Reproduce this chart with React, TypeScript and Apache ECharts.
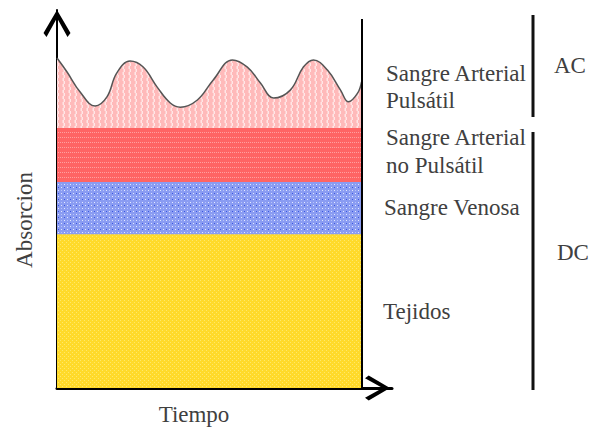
import React, { useEffect, useRef } from 'react';
import * as echarts from 'echarts';

// Time axis range (arbitrary units) and absorption range
const timeExtent = [0, 110];
const absorptionExtent = [0, 100];
const timeEnd = 100;

// Pulsatile arterial blood wave
const waveTime = [0, 3.3, 7.6, 12.5, 16.4, 19.6, 24, 28.3, 32.9, 37.2, 40.5, 46.1, 51.3, 57.6, 62.5, 66.8, 71.1, 76.6, 80.9, 84.2, 88.8, 93.1, 95.7, 98.7, 100];
const waveAbsorption = [87.3, 83.6, 78.3, 74.6, 77.0, 83.3, 86.5, 84.9, 79.6, 75.4, 74.3, 76.2, 81.5, 86.8, 84.9, 80.7, 76.7, 78.8, 84.9, 86.8, 84.1, 78.8, 75.7, 78.0, 81.0];

// Upper limit of each constant layer (from the bottom up)
const layerNames = ['Tejidos', 'Sangre Venosa', 'Sangre Arterial no Pulsátil'];
const layerTops = [40.7, 54.5, 68.8];
const pulsatileName = 'Sangre Arterial Pulsátil';

const axisNames = ['Tiempo', 'Absorcion'];
const groupNames = ['AC', 'DC'];

const TXT = '#404040';
const FAMILY = 'Liberation Serif';
const textStyle = (text: string, extra: any = {}) => ({
  text,
  fontFamily: FAMILY,
  fontSize: 23,
  fill: TXT,
  verticalAlign: 'middle',
  ...extra,
});

const chevron = 'path://M13.5,0 L27,23 L24,27 L13.5,8 L3,27 L0,23 Z';

function makePattern(w: number, h: number, draw: (ctx: CanvasRenderingContext2D) => void) {
  const c = document.createElement('canvas');
  c.width = w;
  c.height = h;
  const ctx = c.getContext('2d')!;
  draw(ctx);
  return { image: c, repeat: 'repeat' };
}

export default function App() {
  const ref = useRef<HTMLDivElement>(null);
  useEffect(() => {
    document.body.style.margin = '0';
    const chart = echarts.init(ref.current!, null, { renderer: 'svg' });

    const yellow = makePattern(4, 4, (ctx) => {
      ctx.fillStyle = '#FFDA2A';
      ctx.fillRect(0, 0, 4, 4);
      ctx.fillStyle = '#FFE86A';
      ctx.fillRect(0, 0, 1, 1);
      ctx.fillRect(2, 2, 1, 1);
    });
    const blue = makePattern(6, 6, (ctx) => {
      ctx.fillStyle = '#8A9CF2';
      ctx.fillRect(0, 0, 6, 6);
      ctx.fillStyle = '#E4E9FF';
      ctx.fillRect(1, 1, 1, 1);
      ctx.fillRect(4, 4, 1, 1);
      ctx.fillStyle = '#3A55E0';
      ctx.fillRect(4, 1, 1, 1);
      ctx.fillStyle = '#B5C2FA';
      ctx.fillRect(1, 4, 1, 1);
    });
    const red = makePattern(4, 5, (ctx) => {
      ctx.fillStyle = '#FF6464';
      ctx.fillRect(0, 0, 4, 5);
      ctx.fillStyle = '#FFA0A0';
      ctx.fillRect(0, 2, 1, 1);
      ctx.fillRect(2, 2, 1, 1);
    });
    const pink = makePattern(6, 6, (ctx) => {
      ctx.fillStyle = '#FFBABA';
      ctx.fillRect(0, 0, 6, 6);
      ctx.fillStyle = '#FFE6E6';
      ctx.fillRect(3, 0, 1, 3);
      ctx.fillRect(4, 3, 1, 3);
      ctx.fillStyle = '#FFD0D0';
      ctx.fillRect(2, 0, 1, 3);
      ctx.fillRect(3, 3, 1, 3);
    });
    const layerFills = [yellow, blue, red];

    const layerSeries: any[] = layerNames
      .map((name, i) => ({
        type: 'line',
        name,
        data: [
          [0, layerTops[i]],
          [timeEnd, layerTops[i]],
        ],
        symbol: 'none',
        lineStyle: { width: 0 },
        areaStyle: { color: layerFills[i], opacity: 1, origin: 'start' },
        silent: true,
      }))
      .reverse();
    layerSeries[layerSeries.length - 1].markLine = {
      silent: true,
      symbol: 'none',
      label: { show: false },
      lineStyle: { color: '#000', width: 2, type: 'solid' },
      data: [[{ coord: [timeEnd, 0] }, { coord: [timeEnd, 97.6] }]],
    };

    const option = {
      animation: false,
      textStyle: { fontFamily: FAMILY },
      grid: { left: 57, right: 199, top: 10, bottom: 42 },
      xAxis: {
        type: 'value',
        min: timeExtent[0],
        max: timeExtent[1],
        axisLine: {
          show: true,
          lineStyle: { color: '#000', width: 3 },
          symbol: ['none', chevron],
          symbolSize: [25, 29],
          symbolOffset: [0, -14.5],
        },
        axisTick: { show: false },
        axisLabel: { show: false },
        splitLine: { show: false },
      },
      yAxis: {
        type: 'value',
        min: absorptionExtent[0],
        max: absorptionExtent[1],
        axisLine: {
          show: true,
          lineStyle: { color: '#000', width: 2 },
          symbol: ['none', chevron],
          symbolSize: [27, 27],
          symbolOffset: [0, -13.5],
        },
        axisTick: { show: false },
        axisLabel: { show: false },
        splitLine: { show: false },
      },
      series: [
        {
          type: 'line',
          name: pulsatileName,
          data: waveTime.map((t, i) => [t, waveAbsorption[i]]),
          smooth: 0.4,
          symbol: 'none',
          lineStyle: { color: '#555', width: 1.5 },
          areaStyle: { color: pink, opacity: 1, origin: 'start' },
          silent: true,
        },
        ...layerSeries,
      ],
      graphic: [
        { type: 'text', x: 386, y: 73, style: textStyle('Sangre Arterial') },
        { type: 'text', x: 386, y: 100, style: textStyle('Pulsátil') },
        { type: 'text', x: 386, y: 137, style: textStyle('Sangre Arterial') },
        { type: 'text', x: 386, y: 165, style: textStyle('no Pulsátil') },
        { type: 'text', x: 384, y: 207, style: textStyle(layerNames[1]) },
        { type: 'text', x: 383, y: 311, style: textStyle(layerNames[0]) },
        { type: 'text', x: 554, y: 65, style: textStyle(groupNames[0]) },
        { type: 'text', x: 557, y: 252, style: textStyle(groupNames[1]) },
        { type: 'line', shape: { x1: 533, y1: 15, x2: 533, y2: 117 }, style: { stroke: '#111', lineWidth: 3 } },
        { type: 'line', shape: { x1: 533, y1: 132, x2: 533, y2: 390 }, style: { stroke: '#111', lineWidth: 3 } },
        { type: 'text', x: 194, y: 414, style: textStyle(axisNames[0], { align: 'center' }) },
        {
          type: 'text',
          x: 24,
          y: 220,
          rotation: Math.PI / 2,
          style: textStyle(axisNames[1], { align: 'center' }),
        },
      ],
    };
    chart.setOption(option as any);
    return () => chart.dispose();
  }, []);
  return <div ref={ref} style={{ width: 591, height: 430 }} />;
}
